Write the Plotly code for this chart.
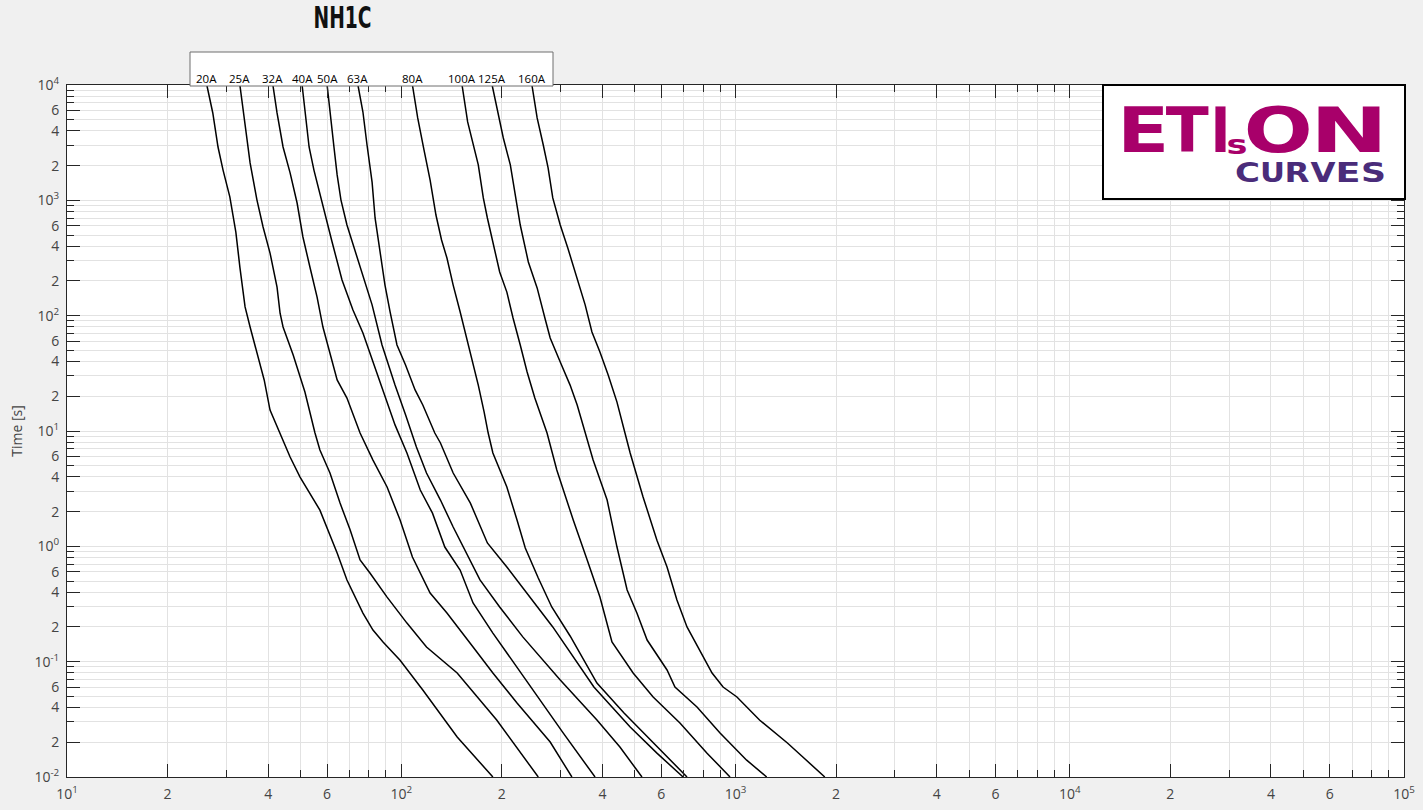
import numpy as np
import plotly.graph_objects as go

# ---------------- data (current [A], time [s]) ----------------
curve_names = ["20A", "25A", "32A", "40A", "50A", "63A", "80A", "100A", "125A", "160A"]

i_20A = [26.2, 27.3, 28.3, 29.3, 30.7, 32.0, 32.9, 34.1, 35.3, 37.0, 38.9, 40.5, 43.4, 46.5, 49.8,
         57.1, 64.3, 68.8, 76.8, 82.3, 88.2, 99.2, 116, 147, 188]
t_20A = [10000, 5720, 2900, 1830, 1070, 531, 264, 119, 79.7, 47.5, 27.7, 15.2, 9.60, 5.95, 3.99,
         2.06, 0.875, 0.511, 0.264, 0.188, 0.148, 0.103, 0.0568, 0.0222, 0.01]

i_25A = [32.9, 34.1, 35.3, 37.0, 38.6, 40.5, 42.5, 43.4, 44.3, 47.5, 51.5, 55.2, 57.1, 61.2, 65.6,
         70.3, 75.3, 80.6, 90.7, 104, 119, 147, 193, 257]
t_25A = [10000, 4680, 2110, 1010, 587, 349, 177, 105, 79.7, 45.6, 21.8, 9.60, 6.84, 4.32, 2.37,
         1.39, 0.761, 0.587, 0.363, 0.216, 0.134, 0.0797, 0.0312, 0.01]

i_32A = [41.3, 42.5, 44.3, 46.5, 48.8, 50.8, 53.3, 56.0, 58.3, 61.2, 64.3, 68.8, 75.3, 82.3, 90.7,
         99.2, 108, 122, 137, 164, 188, 222, 279, 324]
t_32A = [10000, 5720, 2900, 1730, 948, 481, 264, 145, 79.7, 47.5, 27.7, 19.3, 9.60, 5.60, 3.27,
         1.69, 0.808, 0.394, 0.264, 0.134, 0.0797, 0.0438, 0.0201, 0.01]

i_40A = [50.5, 51.5, 53.0, 54.8, 58.3, 62.1, 66.5, 71.7, 76.8, 82.3, 90.7, 95.8, 104, 114, 124,
         135, 150, 164, 188, 227, 305, 380]
t_40A = [10000, 5720, 2900, 1830, 875, 435, 204, 112, 70.7, 39.6, 17.8, 11.3, 6.45, 3.08, 1.94,
         0.986, 0.623, 0.323, 0.177, 0.0813, 0.0241, 0.01]

i_50A = [60.0, 61.2, 62.9, 64.3, 66.0, 68.8, 72.7, 76.8, 81.8, 87.6, 95.8, 103, 111, 119, 131,
         143, 157, 172, 197, 231, 299, 385, 451, 525]
t_50A = [10000, 5720, 2900, 1660, 1010, 611, 371, 225, 124, 55.7, 25.0, 13.8, 7.26, 4.32, 2.52,
         1.47, 0.875, 0.511, 0.298, 0.164, 0.0693, 0.0312, 0.0182, 0.01]

i_63A = [74.2, 76.8, 79.0, 81.8, 83.5, 86.4, 89.4, 92.6, 97.1, 103, 110, 116, 126, 131, 143,
         161, 181, 207, 238, 284, 377, 484, 582, 697]
t_63A = [10000, 5830, 3020, 1440, 703, 356, 184, 108, 55.7, 37.3, 22.7, 16.8, 9.60, 7.87, 4.32,
         2.37, 1.07, 0.662, 0.394, 0.200, 0.0603, 0.0271, 0.0161, 0.01]

i_80A = [108, 112, 117, 122, 127, 132, 137, 143, 150, 157, 164, 170, 177, 182, 188,
         207, 222, 235, 257, 282, 320, 385, 464, 559, 641, 716]
t_80A = [10000, 5180, 2730, 1500, 746, 453, 316, 184, 108, 64.0, 39.6, 25.0, 14.6, 9.60, 6.45,
         3.27, 1.69, 0.967, 0.531, 0.298, 0.167, 0.0653, 0.0359, 0.0209, 0.0140, 0.01]

i_100A = [152, 158, 170, 176, 181, 187, 197, 207, 216, 227, 238, 251, 264, 273, 292,
          327, 360, 393, 427, 494, 567, 682, 822, 963]
t_100A = [10000, 4780, 2030, 1050, 703, 471, 239, 160, 95.4, 55.7, 32.5, 19.3, 13.0, 9.60, 4.59,
          1.69, 0.761, 0.363, 0.148, 0.0797, 0.0494, 0.0294, 0.0161, 0.01]

i_125A = [187, 193, 202, 212, 219, 227, 240, 255, 269, 279, 299, 320, 336, 355, 375,
          413, 442, 474, 507, 544, 624, 659, 767, 899, 1080, 1240]
t_125A = [10000, 6320, 3470, 2030, 1110, 611, 292, 174, 95.4, 64.0, 39.6, 25.0, 16.8, 9.60, 5.60,
          2.52, 0.986, 0.418, 0.264, 0.154, 0.0847, 0.0603, 0.0404, 0.0241, 0.0140, 0.01]

i_160A = [246, 255, 266, 275, 284, 299, 315, 336, 355, 372, 393, 416, 442, 467, 484,
          529, 582, 624, 668, 716, 783, 851, 918, 1010, 1180, 1430, 1590, 1850]
t_160A = [10000, 5180, 3020, 1910, 1050, 611, 386, 212, 124, 72.2, 48.4, 30.6, 17.8, 9.60, 6.45,
          2.68, 1.13, 0.662, 0.342, 0.200, 0.126, 0.0797, 0.0603, 0.0494, 0.0312, 0.0197, 0.0149, 0.01]

currents = [i_20A, i_25A, i_32A, i_40A, i_50A, i_63A, i_80A, i_100A, i_125A, i_160A]
times = [t_20A, t_25A, t_32A, t_40A, t_50A, t_63A, t_80A, t_100A, t_125A, t_160A]

# tick labels
x_major_vals = [10, 20, 40, 60, 100, 200, 400, 600, 1000, 2000, 4000, 6000,
                10000, 20000, 40000, 60000, 100000]
x_major_text = ["10<sup>1</sup>", "2", "4", "6", "10<sup>2</sup>", "2", "4", "6",
                "10<sup>3</sup>", "2", "4", "6", "10<sup>4</sup>", "2", "4", "6", "10<sup>5</sup>"]
x_minor_vals = [30, 50, 70, 80, 90, 300, 500, 700, 800, 900, 3000, 5000, 7000, 8000, 9000,
                30000, 50000, 70000, 80000, 90000]

y_major_vals = [0.01, 0.02, 0.04, 0.06, 0.1, 0.2, 0.4, 0.6, 1, 2, 4, 6, 10, 20, 40, 60,
                100, 200, 400, 600, 1000, 2000, 4000, 6000, 10000]
y_major_text = ["10<sup>-2</sup>", "2", "4", "6", "10<sup>-1</sup>", "2", "4", "6",
                "10<sup>0</sup>", "2", "4", "6", "10<sup>1</sup>", "2", "4", "6",
                "10<sup>2</sup>", "2", "4", "6", "10<sup>3</sup>", "2", "4", "6", "10<sup>4</sup>"]
y_minor_vals = [0.03, 0.05, 0.07, 0.08, 0.09, 0.3, 0.5, 0.7, 0.8, 0.9, 3, 5, 7, 8, 9,
                30, 50, 70, 80, 90, 300, 500, 700, 800, 900, 3000, 5000, 7000, 8000, 9000]

# ---------------- figure ----------------
W, H = 1423, 810
ML, MR, MT, MB = 67, 19, 85, 33
PW, PH = W - ML - MR, H - MT - MB


def px(xp):
    return (xp - ML) / PW


def py(yp):
    return (H - MB - yp) / PH


fig = go.Figure()
for name, I, t in zip(curve_names, currents, times):
    fig.add_trace(go.Scatter(x=I, y=t, mode="lines", name=name, showlegend=False,
                             line=dict(color="black", width=1.5), hoverinfo="skip"))

axis_col = "#262626"
grid_col = "#e2e2e2"
tickfont = dict(family="Open Sans, Noto Sans, sans-serif", size=14, color="#444444")

common = dict(type="log", tickmode="array", ticks="inside", ticklen=13, tickwidth=1,
              tickcolor=axis_col, showline=True, linecolor=axis_col, linewidth=1,
              mirror="allticks", showgrid=True, gridcolor=grid_col, gridwidth=1,
              zeroline=False, tickfont=tickfont)

fig.update_xaxes(range=[1, 5], tickvals=x_major_vals, ticktext=x_major_text,
                 minor=dict(tickmode="array", tickvals=x_minor_vals, ticks="inside", ticklen=7,
                            tickcolor=axis_col, showgrid=True, gridcolor=grid_col),
                 ticklabelstandoff=4, **common)
fig.update_yaxes(range=[-2, 4], tickvals=y_major_vals, ticktext=y_major_text,
                 minor=dict(tickmode="array", tickvals=y_minor_vals, ticks="inside", ticklen=7,
                            tickcolor=axis_col, showgrid=True, gridcolor=grid_col),
                 ticklabelstandoff=4,
                 title=dict(text="Time [s]", standoff=8,
                            font=dict(family="Open Sans, Noto Sans, sans-serif", size=14,
                                      color="#444444")),
                 **common)

shapes = []
annotations = []

# title
annotations.append(dict(text="<b>NH1C</b>", xref="paper", yref="paper", x=px(342.5), y=py(17.5),
                        xanchor="center", yanchor="middle", showarrow=False,
                        font=dict(family="DejaVu Sans, sans-serif", size=30, color="#111111")))

# curve-label box
shapes.append(dict(type="rect", xref="paper", yref="paper", x0=px(190), x1=px(553),
                   y0=py(86), y1=py(52), fillcolor="white", line=dict(color="#6e6e6e", width=1),
                   layer="above"))
for name, I in zip(curve_names, currents):
    annotations.append(dict(text=name, xref="x", yref="paper", x=float(np.log10(I[0])), y=py(78),
                            xanchor="center", yanchor="middle", showarrow=False,
                            font=dict(family="Open Sans, Noto Sans, sans-serif", size=11.5,
                                      color="black")))

# logo box
shapes.append(dict(type="rect", xref="paper", yref="paper", x0=px(1103), x1=px(1405),
                   y0=py(199), y1=py(85), fillcolor="white", line=dict(color="black", width=2),
                   layer="above"))
magenta = "#a8006a"
purple = "#4a2c7a"
logo_font = "DejaVu Sans, Verdana, sans-serif"
big_letters = [("E", 1143), ("T", 1187), ("I", 1220), ("O", 1278), ("N", 1349)]
for ch, cx in big_letters:
    annotations.append(dict(text="<b>" + ch + "</b>", xref="paper", yref="paper", x=px(cx),
                            y=py(130), xanchor="center", yanchor="middle", showarrow=False,
                            font=dict(family=logo_font, size=62, color=magenta)))
annotations.append(dict(text="<b>s</b>", xref="paper", yref="paper", x=px(1237), y=py(144),
                        xanchor="center", yanchor="middle", showarrow=False,
                        font=dict(family=logo_font, size=27, color=magenta)))
small_letters = ["C", "U", "R", "V", "E", "S"]
for k, ch in enumerate(small_letters):
    annotations.append(dict(text="<b>" + ch + "</b>", xref="paper", yref="paper",
                            x=px(1247 + 25.2 * k), y=py(173), xanchor="center", yanchor="middle",
                            showarrow=False, font=dict(family=logo_font, size=26, color=purple)))

fig.update_layout(width=W, height=H, margin=dict(l=ML, r=MR, t=MT, b=MB, autoexpand=False),
                  paper_bgcolor="#f0f0f0", plot_bgcolor="white",
                  shapes=shapes, annotations=annotations, showlegend=False)

post_js = """
document.body.style.margin='0px';
document.body.style.overflow='hidden';
(function(){
  var gd = document.getElementById('{plot_id}');
  if(!gd) return;
  var big = {'E':52,'T':43,'I':20,'O':69,'N':78};
  gd.querySelectorAll('text.annotation-text').forEach(function(t){
    var s = t.textContent;
    var fs = parseFloat(t.style.fontSize || '0');
    var L = null;
    if (s === 'NH1C') L = 58;
    else if (fs > 50 && big[s]) L = big[s];
    else if (s === 's' && fs > 26.5) L = 21;
    else if (fs > 25 && fs < 26.5 && 'CURVES'.indexOf(s) >= 0) L = 25;
    if (L) { t.setAttribute('textLength', L); t.setAttribute('lengthAdjust', 'spacingAndGlyphs'); }
  });
})();
"""

fig.write_html("out.html", config={"displayModeBar": False}, post_script=post_js)
